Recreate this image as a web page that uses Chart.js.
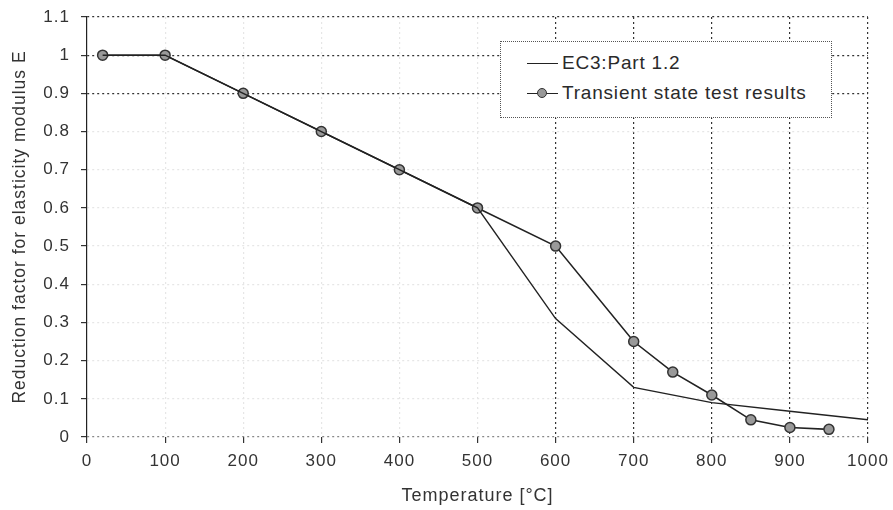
<!DOCTYPE html>
<html>
<head>
<meta charset="utf-8">
<script src="https://cdn.jsdelivr.net/npm/chart.js@4"></script>
<style>
  html, body { margin: 0; padding: 0; background: #fff; }
  #wrap { position: relative; width: 893px; height: 510px; }
  #legend {
    position: absolute; left: 500px; top: 41px; width: 332px; height: 77px;
    border: 1px dotted #555; background: #fff; box-sizing: border-box;
    font-family: "Liberation Sans", Arial, sans-serif; font-size: 19px; letter-spacing: 0.8px; color: #2a2a2a;
  }
  .row { position: absolute; left: 26px; height: 22px; line-height: 22px; white-space: nowrap; }
  .sample { display: inline-block; position: relative; width: 31px; height: 22px; vertical-align: top; margin-right: 4px; }
  .sample .ln { position: absolute; left: 0; right: 0; top: 11px; border-top: 1.5px solid #222; }
  .sample .dot {
    position: absolute; left: 10px; top: 6px; width: 8px; height: 8px; border-radius: 50%;
    background: #999; border: 1.5px solid #333;
  }
</style>
</head>
<body>
<div id="wrap">
  <canvas id="line-chart" width="893" height="510"></canvas>
  <div id="legend">
    <div class="row" style="top:10px"><span class="sample"><span class="ln"></span></span>EC3:Part 1.2</div>
    <div class="row" style="top:40px"><span class="sample"><span class="ln"></span><span class="dot"></span></span>Transient state test results</div>
  </div>
</div>
<script>
// Reduction factor for E vs temperature
var ec3Temps = [20, 100, 200, 300, 400, 500, 600, 700, 800, 900, 1000];
var ec3Values = [1, 1, 0.9, 0.8, 0.7, 0.6, 0.31, 0.13, 0.09, 0.0675, 0.045];

var testTemps = [20, 100, 200, 300, 400, 500, 600, 700, 750, 800, 850, 900, 950];
var testValues = [1, 1, 0.9, 0.8, 0.7, 0.6, 0.5, 0.25, 0.17, 0.11, 0.045, 0.025, 0.02];

var xTicks = [0, 100, 200, 300, 400, 500, 600, 700, 800, 900, 1000];
var yTicks = [0, 0.1, 0.2, 0.3, 0.4, 0.5, 0.6, 0.7, 0.8, 0.9, 1, 1.1];

// grid lines that are still dark in the print
var darkX = [600, 700, 800, 900, 1000];
var darkY = [0.9, 1, 1.1];

function pairs(xs, ys) {
    return xs.map(function (x, i) { return { x: x, y: ys[i] }; });
}

var tickFont = { family: '"Liberation Sans", Arial, sans-serif', size: 17 };
var titleFont = { family: '"Liberation Sans", Arial, sans-serif', size: 18 };

// wider letter spacing for all canvas text
var spacing = {
    id: 'spacing',
    beforeUpdate: function (chart) { chart.ctx.letterSpacing = '1px'; },
    beforeDraw: function (chart) { chart.ctx.letterSpacing = '1px'; }
};

new Chart(document.getElementById("line-chart"), {
    type: 'line',
    plugins: [spacing],
    data: {
        datasets: [
            {
                label: 'EC3:Part 1.2',
                data: pairs(ec3Temps, ec3Values),
                borderColor: '#222',
                borderWidth: 1.4,
                pointRadius: 0,
                tension: 0
            },
            {
                label: 'Transient state test results',
                data: pairs(testTemps, testValues),
                borderColor: '#222',
                borderWidth: 1.6,
                pointRadius: 5,
                pointBackgroundColor: '#999',
                pointBorderColor: '#333',
                pointBorderWidth: 1.5,
                tension: 0
            }
        ]
    },
    options: {
        responsive: false,
        animation: false,
        layout: { padding: { top: 17, right: 25, left: 0, bottom: 0 } },
        plugins: {
            legend: { display: false },
            tooltip: { enabled: false }
        },
        scales: {
            x: {
                type: 'linear',
                min: 0,
                max: 1000,
                afterBuildTicks: function (axis) {
                    axis.ticks = xTicks.map(function (v) { return { value: v }; });
                },
                afterFit: function (axis) {
                    axis.height = 73;
                    axis.paddingLeft = 0;
                    axis.paddingRight = 0;
                },
                ticks: {
                    font: tickFont, color: '#333', padding: 8, maxRotation: 0,
                    callback: function (v) { return String(v); }
                },
                title: { display: true, text: 'Temperature [°C]', font: titleFont, color: '#333', padding: { top: 0, bottom: 3 } },
                border: { display: false, dash: [2, 3] },
                grid: {
                    color: function (ctx) {
                        if (ctx.type !== 'tick' || ctx.tick.value === 0) return 'rgba(0,0,0,0)';
                        return darkX.indexOf(ctx.tick.value) >= 0 ? '#333' : '#e6e6e6';
                    },
                    lineWidth: 1.2,
                    tickColor: '#333',
                    tickLength: 6,
                    tickBorderDash: []
                }
            },
            y: {
                min: 0,
                max: 1.1,
                afterBuildTicks: function (axis) {
                    axis.ticks = yTicks.map(function (v) { return { value: v }; });
                },
                afterFit: function (axis) {
                    axis.width = 87;
                    axis.paddingTop = 0;
                    axis.paddingBottom = 0;
                },
                ticks: {
                    font: tickFont,
                    color: '#333',
                    padding: 11,
                    callback: function (v) { return String(Number(v.toFixed(1))); }
                },
                title: {
                    display: true,
                    text: 'Reduction factor for elasticity modulus E',
                    font: { family: titleFont.family, size: 17.5 },
                    color: '#333',
                    padding: { top: 10, bottom: 0 }
                },
                border: { display: true, color: '#222', width: 1.2, dash: [2, 3] },
                grid: {
                    color: function (ctx) {
                        if (ctx.type !== 'tick') return 'rgba(0,0,0,0)';
                        var v = Number(ctx.tick.value.toFixed(1));
                        if (v === 0) return '#888';
                        return darkY.indexOf(v) >= 0 ? '#333' : '#e6e6e6';
                    },
                    lineWidth: 1.2,
                    tickColor: '#333',
                    tickLength: 6,
                    tickBorderDash: []
                }
            }
        }
    }
});
</script>
</body>
</html>
